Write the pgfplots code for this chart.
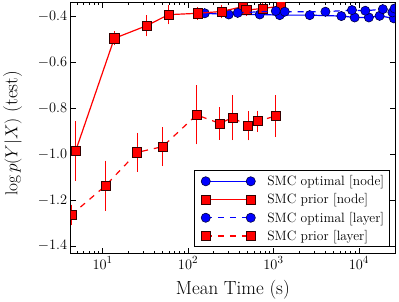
\documentclass[border=0pt]{standalone}
\usepackage{pgfplots}
\pgfplotsset{compat=1.18}
\begin{document}
\begin{tikzpicture}
\useasboundingbox (-70.7pt,-47.7pt) rectangle (328.3pt,253.3pt);
\begin{axis}[
  scale only axis, width=324.3pt, height=250.8pt,
  at={(0pt,0pt)}, anchor=south west,
  xmode=log, xmin=4.23, xmax=26500,
  ymin=-1.432, ymax=-0.341,
  ytick={-1.4,-1.2,-1.0,-0.8,-0.6,-0.4},
  yticklabel style={/pgf/number format/.cd, fixed, fixed zerofill, precision=1},
  tick label style={font=\fontsize{15}{18}\selectfont},
  tick align=inside, major tick length=5pt, minor tick length=2.5pt,
  every tick/.style={black, line width=0.7pt},
  axis line style={line width=1pt},
  clip marker paths=true,
  xlabel={Mean Time (s)},
  ylabel={$\log p(Y|X)$ (test)},
  label style={font=\fontsize{19}{22}\selectfont},
  xlabel style={at={(axis description cs:0.5,-0.166)}, anchor=base},
  ylabel style={at={(axis description cs:-0.179,0.478)}, anchor=center},
  legend cell align=left,
  legend style={at={(0.985,0.024)}, anchor=south east, draw=black, line width=1pt,
    font=\fontsize{13.5}{16}\selectfont, row sep=2.6pt, inner xsep=3.5pt, inner ysep=3pt},
  legend image code/.code={\path (-7pt,0pt) (59pt,0pt); \draw[#1] plot coordinates {(0pt,0pt) (45pt,0pt)};},
  error bars/y dir=both, error bars/y explicit,
  error bars/error mark options={mark size=3.5pt, line width=1pt},
]
% SMC optimal [node]
\addplot[blue, line width=1.2pt, mark=*, mark size=4.6pt,
  mark options={solid, fill=blue, draw=black!75!blue, line width=0.6pt},
  error bars/.cd, error bar style={blue, line width=1pt}]
  table[y error=e] {
x y e
157 -0.388 0.006
300 -0.393 0.006
692 -0.393 0.006
1185 -0.396 0.006
2660 -0.396 0.006
6240 -0.400 0.006
8930 -0.406 0.006
13100 -0.406 0.006
17500 -0.399 0.006
25700 -0.410 0.006
};
\addlegendentry{SMC optimal [node]}
% SMC prior [node]
\addplot[red, line width=1.2pt, mark=square*, mark size=4.6pt,
  mark options={solid, fill=red, draw=black!80!red, line width=0.6pt},
  error bars/.cd, error bar style={red, line width=1pt}]
  table[y error=e] {
x y e
4.83 -0.987 0.115
13.7 -0.497 0.015
32.7 -0.442 0.031
59 -0.394 0.027
129 -0.388 0.012
248 -0.380 0.015
437 -0.359 0.010
480 -0.374 0.010
743 -0.367 0.010
1216 -0.357 0.010
};
\addlegendentry{SMC prior [node]}
% SMC optimal [layer]
\addplot[blue, line width=1.2pt, dash pattern=on 6pt off 6pt, mark=*, mark size=4.6pt,
  mark options={solid, fill=blue, draw=black!75!blue, line width=0.6pt},
  error bars/.cd, error bar style={blue, solid, line width=1pt}]
  table[y error=e] {
x y e
382 -0.386 0.006
1065 -0.378 0.006
1357 -0.381 0.006
4060 -0.381 0.006
8300 -0.374 0.006
11900 -0.377 0.006
19100 -0.370 0.006
24700 -0.384 0.006
26200 -0.367 0.006
};
\addlegendentry{SMC optimal [layer]}
% SMC prior [layer]
\addplot[red, line width=1.2pt, dash pattern=on 6pt off 6pt, mark=square*, mark size=4.6pt,
  mark options={solid, fill=red, draw=black!80!red, line width=0.6pt},
  error bars/.cd, error bar style={red, solid, line width=1pt}]
  table[y error=e] {
x y e
4.3 -1.265 0.030
10.8 -1.138 0.094
25.4 -0.993 0.070
50.4 -0.968 0.070
126 -0.830 0.113
236 -0.867 0.055
331 -0.842 0.082
505 -0.877 0.048
650 -0.857 0.030
1064 -0.835 0.076
};
\addlegendentry{SMC prior [layer]}
\end{axis}
\end{tikzpicture}
\end{document}
